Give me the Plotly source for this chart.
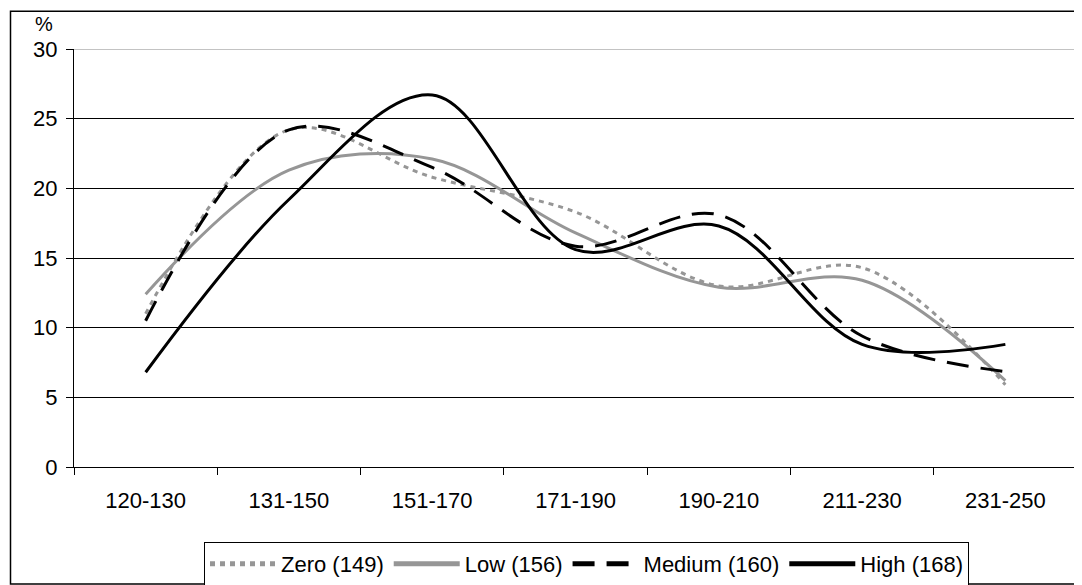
import plotly.graph_objects as go

categories = ["120-130", "131-150", "151-170", "171-190", "190-210", "211-230", "231-250"]
zero = [11.0, 24.2, 20.8, 18.3, 13.0, 14.3, 5.9]
low = [12.4, 21.3, 22.1, 16.8, 12.9, 13.4, 6.2]
medium = [10.5, 24.2, 21.5, 15.85, 18.1, 9.4, 6.85]
high = [6.8, 19.2, 26.7, 15.6, 17.3, 8.8, 8.8]
names = ["Zero (149)", "Low (156)", "Medium (160)", "High (168)"]
y_ticks = [0, 5, 10, 15, 20, 25, 30]

GRAY = "#969696"
FONT = "Liberation Sans, Arial, sans-serif"
FS = 22

fig = go.Figure()
styles = [
    (zero, GRAY, "5px,5px"),
    (low, GRAY, "solid"),
    (medium, "black", "22px,12px"),
    (high, "black", "solid"),
]
for (vals, col, dash), nm in zip(styles, names):
    fig.add_trace(go.Scatter(
        x=categories, y=vals, name=nm, mode="lines",
        line=dict(color=col, width=3, dash=dash, shape="spline", smoothing=1.0),
    ))

# page body has an 8px margin: figure coordinates = reference pixels - 8
OFF = 8
W, H = 1082 - OFF, 585 - OFF
L, R, T, B = 74 - OFF, 1077 - OFF, 49.3 - OFF, 467 - OFF
pw, ph = R - L, B - T

def px(x):
    return (x - OFF - L) / pw

def py(y):
    return (B - (y - OFF)) / ph

fig.update_layout(
    width=W, height=H,
    margin=dict(l=L, r=W - R, t=T, b=H - B, pad=0, autoexpand=False),
    paper_bgcolor="white", plot_bgcolor="white",
    font=dict(family=FONT, size=FS, color="black"),
    showlegend=True,
    legend=dict(
        orientation="h", x=px(586.5), xanchor="center", y=py(542), yanchor="top",
        bordercolor="black", borderwidth=1, font=dict(size=FS, family=FONT),
        itemwidth=66, tracegroupgap=0, itemsizing="constant",
    ),
    xaxis=dict(
        type="category", range=[-0.5, 6.5], showline=True, linecolor="black", linewidth=1,
        ticks="outside", ticklen=7, tickcolor="black", tickson="boundaries",
        showgrid=False, zeroline=False, ticklabelstandoff=14,
        tickfont=dict(size=FS, family=FONT),
    ),
    yaxis=dict(
        range=[0, 30], tickvals=y_ticks, showline=True, linecolor="black", linewidth=1,
        ticks="outside", ticklen=7, tickcolor="black",
        showgrid=True, gridcolor="black", gridwidth=1, zeroline=False,
        ticklabelstandoff=4, tickfont=dict(size=FS, family=FONT),
    ),
    annotations=[dict(
        text="%", x=px(44), y=py(24), xref="paper", yref="paper",
        xanchor="center", yanchor="middle", showarrow=False,
        font=dict(size=20, family=FONT),
    )],
    shapes=[
        dict(type="line", xref="paper", yref="y", x0=0, x1=1, y0=30, y1=30,
             line=dict(color="#888888", width=1), layer="above"),
        dict(type="rect", xref="paper", yref="paper",
             x0=px(10.5), x1=px(1077.5), y0=py(584), y1=py(11.5),
             line=dict(color="black", width=1.5), fillcolor="rgba(0,0,0,0)"),
    ],
)

fig.write_html("out.html")
